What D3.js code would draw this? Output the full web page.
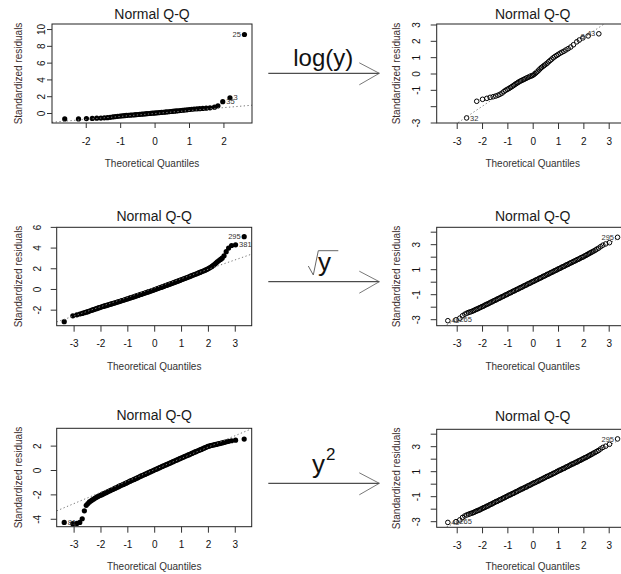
<!DOCTYPE html>
<html>
<head>
<meta charset="utf-8">
<script src="https://cdn.jsdelivr.net/npm/d3@7/dist/d3.min.js"></script>
<style>
html,body{margin:0;padding:0;background:#fff;}
svg{display:block;}
</style>
</head>
<body>
<svg id="chart" width="621" height="574"></svg>
<script>
// ---------------- DATA ----------------
// Theoretical quantiles, top row (n ~ 100)
const topX = [-2.61,-2.21,-1.98,-1.81,-1.68,-1.56,-1.46,-1.37,-1.29,-1.21,
  -1.14,-1.07,-1.00,-0.94,-0.88,-0.82,-0.76,-0.70,-0.65,-0.59,
  -0.54,-0.48,-0.43,-0.37,-0.32,-0.27,-0.22,-0.16,-0.11,-0.06,
  -0.01,0.04,0.09,0.14,0.20,0.25,0.30,0.35,0.41,0.46,
  0.52,0.57,0.63,0.69,0.75,0.81,0.87,0.94,1.01,1.08,
  1.15,1.23,1.31,1.40,1.50,1.61,1.74,1.84,1.98,2.19,2.61];
// Standardized residuals, raw y
const p1Y = [-0.70,-0.70,-0.66,-0.64,-0.62,-0.60,-0.57,-0.55,-0.51,-0.47,
  -0.43,-0.39,-0.36,-0.34,-0.32,-0.29,-0.27,-0.25,-0.24,-0.22,
  -0.20,-0.18,-0.16,-0.14,-0.12,-0.10,-0.08,-0.06,-0.04,-0.02,
  -0.01,0.01,0.03,0.05,0.07,0.09,0.11,0.13,0.15,0.18,
  0.20,0.22,0.25,0.27,0.30,0.33,0.35,0.38,0.42,0.45,
  0.48,0.50,0.52,0.55,0.58,0.62,0.70,0.86,1.35,1.82,9.35];
// Standardized residuals, log(y)
const p2Y = [-2.72,-1.70,-1.58,-1.52,-1.46,-1.42,-1.38,-1.33,-1.27,-1.20,
  -1.11,-1.03,-0.97,-0.92,-0.86,-0.80,-0.74,-0.67,-0.62,-0.56,
  -0.51,-0.46,-0.42,-0.38,-0.34,-0.30,-0.26,-0.22,-0.18,-0.15,
  -0.12,-0.07,-0.01,0.06,0.14,0.22,0.30,0.37,0.44,0.50,
  0.57,0.63,0.72,0.80,0.88,0.96,1.03,1.10,1.17,1.24,
  1.30,1.36,1.44,1.52,1.62,1.76,1.94,2.05,2.18,2.30,2.43];

// Theoretical quantiles, middle and bottom rows (large n)
const gridX = [-3.35,-3.03,-2.88,-2.77,-2.68,-2.60,-2.53,-2.47,-2.41,-2.35,-2.30,-2.25,-2.20,-2.15,
  -2.10,-2.05,-2.00,-1.95,-1.90,-1.85,-1.80,-1.75,-1.70,-1.65,-1.60,-1.55,-1.50,-1.45,-1.40,-1.35,-1.30,-1.25,-1.20,-1.15,-1.10,-1.05,
  -1.00,-0.95,-0.90,-0.85,-0.80,-0.75,-0.70,-0.65,-0.60,-0.55,-0.50,-0.45,-0.40,-0.35,-0.30,-0.25,-0.20,-0.15,-0.10,-0.05,
  0.00,0.05,0.10,0.15,0.20,0.25,0.30,0.35,0.40,0.45,0.50,0.55,0.60,0.65,0.70,0.75,0.80,0.85,0.90,0.95,
  1.00,1.05,1.10,1.15,1.20,1.25,1.30,1.35,1.40,1.45,1.50,1.55,1.60,1.65,1.70,1.75,1.80,1.85,1.90,1.95,2.00,2.05,2.10,
  2.15,2.20,2.25,2.30,2.35,2.41,2.47,2.53,2.60,2.68,2.77,2.88,3.03,3.35];
// raw y (left, middle row)
const p3Y = [-3.16,-2.60,-2.50,-2.42,-2.36,-2.29,-2.24,-2.19,-2.14,-2.08,-2.03,-1.99,-1.94,-1.90,
  -1.86,-1.81,-1.77,-1.72,-1.69,-1.64,-1.61,-1.57,-1.53,-1.49,-1.45,-1.41,-1.37,-1.33,-1.29,-1.25,-1.21,-1.17,-1.12,-1.09,-1.04,-1.00,
  -0.96,-0.92,-0.87,-0.83,-0.79,-0.75,-0.70,-0.66,-0.62,-0.57,-0.53,-0.49,-0.44,-0.40,-0.35,-0.31,-0.26,-0.22,-0.17,-0.13,
  -0.08,-0.03,0.01,0.06,0.11,0.15,0.20,0.25,0.30,0.34,0.39,0.44,0.49,0.53,0.58,0.63,0.68,0.73,0.78,0.83,
  0.88,0.93,0.98,1.03,1.08,1.13,1.18,1.24,1.29,1.34,1.39,1.44,1.49,1.55,1.60,1.66,1.71,1.76,1.82,1.88,1.95,2.02,2.10,
  2.18,2.28,2.38,2.50,2.62,2.74,2.86,2.98,3.20,3.60,3.95,4.20,4.27,5.05];
// sqrt(y)
const p4Y = [-3.12,-3.05,-2.92,-2.72,-2.60,-2.52,-2.46,-2.42,-2.38,-2.33,-2.28,-2.23,-2.19,-2.14,
  -2.09,-2.05,-1.99,-1.96,-1.89,-1.85,-1.79,-1.76,-1.70,-1.64,-1.61,-1.54,-1.50,-1.46,-1.39,-1.35,-1.31,-1.24,-1.20,-1.16,-1.09,-1.05,
  -1.01,-0.94,-0.90,-0.86,-0.79,-0.75,-0.71,-0.64,-0.60,-0.56,-0.49,-0.45,-0.41,-0.34,-0.30,-0.26,-0.19,-0.15,-0.11,-0.04,
  0.00,0.04,0.11,0.15,0.19,0.26,0.30,0.34,0.41,0.45,0.49,0.56,0.60,0.64,0.71,0.75,0.79,0.86,0.90,0.94,
  1.01,1.05,1.09,1.16,1.20,1.24,1.31,1.35,1.39,1.46,1.50,1.54,1.61,1.65,1.69,1.76,1.80,1.84,1.91,1.95,1.99,2.06,2.10,
  2.17,2.22,2.28,2.33,2.39,2.45,2.52,2.60,2.68,2.80,2.92,3.02,3.12,3.55];
// raw y (left, bottom row)
const p5Y = [-4.30,-4.40,-4.38,-4.30,-4.00,-3.35,-2.90,-2.75,-2.62,-2.52,-2.45,-2.38,-2.30,-2.24,
  -2.18,-2.12,-2.07,-2.02,-1.96,-1.91,-1.86,-1.81,-1.75,-1.70,-1.65,-1.60,-1.54,-1.49,-1.44,-1.39,-1.33,-1.28,-1.23,-1.18,-1.13,-1.08,
  -1.03,-0.97,-0.92,-0.87,-0.82,-0.77,-0.72,-0.67,-0.62,-0.56,-0.51,-0.46,-0.41,-0.36,-0.31,-0.26,-0.21,-0.16,-0.11,-0.06,
  -0.01,0.04,0.09,0.14,0.19,0.24,0.29,0.34,0.39,0.44,0.49,0.53,0.58,0.63,0.68,0.73,0.78,0.83,0.88,0.93,
  0.98,1.02,1.07,1.12,1.17,1.22,1.26,1.31,1.36,1.41,1.46,1.50,1.55,1.60,1.65,1.69,1.74,1.79,1.84,1.88,1.93,1.97,2.00,
  2.02,2.05,2.08,2.10,2.13,2.16,2.19,2.22,2.26,2.31,2.35,2.40,2.45,2.54];
// y^2
const p6Y = [-3.10,-3.04,-2.90,-2.70,-2.58,-2.50,-2.45,-2.40,-2.36,-2.32,-2.27,-2.22,-2.18,-2.13,
  -2.11,-2.04,-2.00,-1.93,-1.91,-1.85,-1.79,-1.77,-1.69,-1.65,-1.61,-1.54,-1.50,-1.43,-1.41,-1.35,-1.29,-1.27,-1.19,-1.15,-1.11,-1.04,
  -1.00,-0.93,-0.91,-0.85,-0.79,-0.77,-0.69,-0.65,-0.61,-0.54,-0.50,-0.43,-0.41,-0.35,-0.29,-0.27,-0.19,-0.15,-0.11,-0.04,
  0.00,0.07,0.09,0.15,0.21,0.23,0.31,0.35,0.39,0.46,0.50,0.57,0.59,0.65,0.71,0.73,0.81,0.85,0.89,0.96,
  1.00,1.07,1.09,1.15,1.21,1.23,1.31,1.35,1.39,1.46,1.50,1.57,1.59,1.65,1.71,1.73,1.81,1.85,1.89,1.96,2.00,2.07,2.09,
  2.16,2.21,2.27,2.32,2.38,2.45,2.51,2.58,2.66,2.78,2.90,3.00,3.15,3.58];

// reference (qqline) intercepts and slopes
const lineIntercepts = [-0.06, 0.078, 0.09, 0.01, 0.018, 0.00];
const lineSlopes     = [0.349, 1.047, 0.903, 1.02, 0.928, 1.02];

// tick values and labels
const xTicksP1 = [-2,-1,0,1,2];
const xTicksWide = [-3,-2,-1,0,1,2,3];
const p1YTicks = [0,2,4,6,8,10];
const p2YTicks = [-3,-2,-1,0,1,2,3];
const p2YLabels = [-3,-1,0,1,2,3];
const p3YTicks = [-2,0,2,4,6];
const p4YTicks = [-3,-2,-1,0,1,2,3,4];
const p4YLabels = [-3,-1,1,3];
const p5YTicks = [-4,-2,0,2];

// point id labels [text, x, y, side]
const p1Labels = [["25",2.61,9.35,"l"],["3",2.19,1.82,"r"],["35",1.98,1.35,"r"]];
const p2Labels = [["32",-2.61,-2.72,"r"],["8",2.19,2.30,"l"],["43",2.61,2.43,"l"]];
const p3Labels = [["295",3.35,5.05,"l"],["381",3.03,4.27,"r"]];
const p4Labels = [["295",3.35,3.55,"l"],["49",-3.35,-3.12,"r"],["265",-3.03,-3.05,"r"]];
const p5Labels = [["81",-3.35,-4.30,"r"]];
const p6Labels = [["295",3.35,3.58,"l"],["49",-3.35,-3.10,"r"],["265",-3.03,-3.04,"r"]];

const titleText = "Normal Q-Q";
const xTitleText = "Theoretical Quantiles";
const yTitleText = "Standardized residuals";

// ---------------- LAYOUT ----------------
const FONT = '"Liberation Sans", Arial, Helvetica, sans-serif';
const L = [
 {xs:topX, ys:p1Y, xt:xTicksP1, yt:p1YTicks, yl:p1YTicks, labels:p1Labels,
  xDom:[-2.98,2.83], xR:[52,252], yDom:[-1.19,10.6], yR:[123,24], open:false, tick:5, yLabOff:11, titleY:19, xTitleY:167, yTitleX:18},
 {xs:topX, ys:p2Y, xt:xTicksWide, yt:p2YTicks, yl:p2YLabels, labels:p2Labels,
  xDom:[-3.79,3.79], xR:[436.7,628.7], yDom:[-3.03,3.03], yR:[123,24], open:true, tick:6, yLabOff:20, titleY:19, xTitleY:167, yTitleX:396},
 {xs:gridX, ys:p3Y, xt:xTicksWide, yt:p3YTicks, yl:p3YTicks, labels:p3Labels,
  xDom:[-3.63,3.63], xR:[56.7,251.7], yDom:[-3.55,5.96], yR:[325.7,227.3], open:false, tick:6, yLabOff:19, titleY:221, xTitleY:369.5, yTitleX:18},
 {xs:gridX, ys:p4Y, xt:xTicksWide, yt:p4YTicks, yl:p4YLabels, labels:p4Labels,
  xDom:[-3.79,3.79], xR:[436.7,628.7], yDom:[-3.52,4.35], yR:[325.7,227.3], open:true, tick:6, yLabOff:20, titleY:221, xTitleY:369.5, yTitleX:396},
 {xs:gridX, ys:p5Y, xt:xTicksWide, yt:p5YTicks, yl:p5YTicks, labels:p5Labels,
  xDom:[-3.63,3.63], xR:[56.7,251.7], yDom:[-4.65,3.42], yR:[526.7,428.3], open:false, tick:6, yLabOff:19, titleY:420, xTitleY:570, yTitleX:18},
 {xs:gridX, ys:p6Y, xt:xTicksWide, yt:p4YTicks, yl:p4YLabels, labels:p6Labels,
  xDom:[-3.79,3.79], xR:[436.7,628.7], yDom:[-3.49,4.35], yR:[527.3,429.3], open:true, tick:6, yLabOff:20, titleY:421, xTitleY:570, yTitleX:396}
];

const svg = d3.select("#chart");
svg.append("rect").attr("width",621).attr("height",574).attr("fill","#fff");
const defs = svg.append("defs");

L.forEach((P, i) => {
  if (P.xs.length !== P.ys.length) {
    svg.append("text").attr("x",10).attr("y",20+i*12).attr("fill","red").attr("font-size",10).text("len mismatch "+i+" "+P.xs.length+"/"+P.ys.length);
  }
  const x = d3.scaleLinear().domain(P.xDom).range(P.xR);
  const y = d3.scaleLinear().domain(P.yDom).range(P.yR);
  const g = svg.append("g");
  const x0 = P.xR[0], x1 = P.xR[1], yTop = P.yR[1], yBot = P.yR[0];

  defs.append("clipPath").attr("id","clip"+i).append("rect")
    .attr("x",x0).attr("y",yTop).attr("width",x1-x0).attr("height",yBot-yTop);

  // points
  const pts = d3.zip(P.xs, P.ys);
  const pg = g.append("g");
  if (P.open) {
    pg.selectAll("circle").data(pts).join("circle")
      .attr("cx", d => x(d[0])).attr("cy", d => y(d[1])).attr("r", 2.3)
      .attr("fill","none").attr("stroke","#000").attr("stroke-width",1);
  } else {
    pg.selectAll("circle").data(pts).join("circle")
      .attr("cx", d => x(d[0])).attr("cy", d => y(d[1])).attr("r", 2.6)
      .attr("fill","#000");
  }

  // qq line (dotted, grey)
  const a = lineIntercepts[i], b = lineSlopes[i];
  g.append("line").attr("clip-path","url(#clip"+i+")")
    .attr("x1", x(P.xDom[0])).attr("y1", y(a + b*P.xDom[0]))
    .attr("x2", x(P.xDom[1])).attr("y2", y(a + b*P.xDom[1]))
    .attr("stroke","#7a7a7a").attr("stroke-width",1).attr("stroke-dasharray","1.3,2.4");

  // id labels
  g.selectAll("text.id").data(P.labels).join("text").attr("class","id")
    .attr("x", d => x(d[1]) + (d[3]==="l" ? -3.5 : 3.5))
    .attr("y", d => y(d[2]) + 2.6)
    .attr("text-anchor", d => d[3]==="l" ? "end" : "start")
    .attr("font-family", FONT).attr("font-size", 7.5).attr("fill","#333")
    .text(d => d[0]);

  // box
  g.append("rect").attr("x", x0).attr("y", yTop).attr("width", x1-x0).attr("height", yBot-yTop)
    .attr("fill","none").attr("stroke","#222").attr("stroke-width",1);

  // x axis
  const gx = g.append("g").attr("transform", `translate(0,${yBot})`)
    .call(d3.axisBottom(x).tickValues(P.xt).tickSize(P.tick).tickPadding(14.4 - P.tick)
      .tickFormat(d => String(d)));
  gx.select(".domain").remove();
  gx.attr("color","#333").attr("font-family", FONT).attr("font-size", 10);
  gx.selectAll("text").attr("fill","#111");

  // y axis
  const gy = g.append("g").attr("transform", `translate(${x0},0)`)
    .call(d3.axisLeft(y).tickValues(P.yt).tickSize(P.tick)
      .tickFormat(d => P.yl.includes(d) ? String(d) : ""));
  gy.select(".domain").remove();
  gy.attr("color","#333").attr("font-family", FONT).attr("font-size", 10);
  gy.selectAll("text")
    .attr("x", null).attr("dy", "0.36em").attr("fill","#111")
    .attr("text-anchor","middle")
    .attr("transform", `translate(${-P.yLabOff},0) rotate(-90)`);

  // title
  g.append("text").attr("x", (x0 + Math.min(x1, 628.7))/2).attr("y", P.titleY)
    .attr("text-anchor","middle").attr("font-family", FONT).attr("font-size", 14).attr("fill","#1a1a1a")
    .text(titleText);
  // x title
  g.append("text").attr("x", (x0 + x1)/2).attr("y", P.xTitleY)
    .attr("text-anchor","middle").attr("font-family", FONT).attr("font-size", 10).attr("fill","#333")
    .text(xTitleText);
  // y title
  g.append("text").attr("transform", `translate(${P.yTitleX},${(yTop+yBot)/2}) rotate(-90)`)
    .attr("dy","0.35em").attr("text-anchor","middle").attr("font-family", FONT).attr("font-size", 10).attr("fill","#3a2c2c")
    .text(yTitleText);
});

// ---------------- TRANSFORMATION ARROWS ----------------
const arrowRows = [73.3, 281.7, 483.3];
const ag = svg.append("g");
arrowRows.forEach(ay => {
  ag.append("line").attr("x1",268.3).attr("y1",ay).attr("x2",379.3).attr("y2",ay)
    .attr("stroke","#222").attr("stroke-width",1);
  ag.append("line").attr("x1",379.3).attr("y1",ay).attr("x2",359.3).attr("y2",ay-10.5)
    .attr("stroke","#555").attr("stroke-width",0.8);
  ag.append("line").attr("x1",379.3).attr("y1",ay).attr("x2",359.3).attr("y2",ay+11.5)
    .attr("stroke","#555").attr("stroke-width",0.8);
});
// log(y)
ag.append("text").attr("x",323.3).attr("y",66).attr("text-anchor","middle")
  .attr("font-family",FONT).attr("font-size",24).attr("fill","#111").text("log(y)");
// sqrt(y): radical drawn as lines (as R plotmath does), y as text
ag.append("path").attr("d","M308.3,266 L313.3,275 L318.3,250.7 L338.3,250.7")
  .attr("fill","none").attr("stroke","#666").attr("stroke-width",1);
ag.append("text").attr("x",318).attr("y",270.5)
  .attr("font-family",FONT).attr("font-size",26).attr("fill","#111").text("y");
// y^2
const sq = ag.append("text").attr("x",312).attr("y",472.8)
  .attr("font-family",FONT).attr("font-size",26).attr("fill","#111");
sq.append("tspan").text("y");
sq.append("tspan").attr("x",326).attr("y",460).attr("font-size",17).text("2");
</script>
</body>
</html>
